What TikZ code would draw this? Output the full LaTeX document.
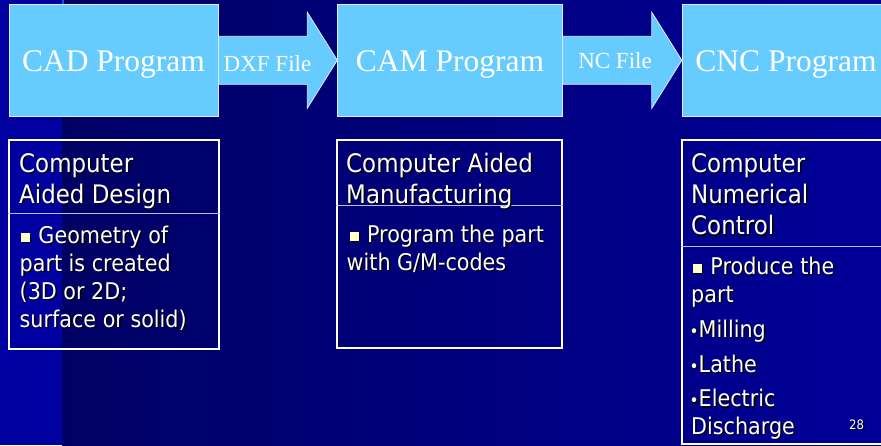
\documentclass[tikz,border=0pt]{standalone}
\usepackage{fontspec}
\setmainfont{Liberation Serif}
\newfontfamily\tah[FakeStretch=0.9]{DejaVu Sans}
\usetikzlibrary{calc}
\definecolor{bgstrip}{RGB}{0,0,160}
\definecolor{bgleft}{RGB}{0,0,100}
\definecolor{bgright}{RGB}{0,0,152}
\definecolor{stripline}{RGB}{0,95,235}
\definecolor{boxfill}{RGB}{102,204,255}
\definecolor{boxline}{RGB}{222,236,255}
\definecolor{bulletc}{RGB}{255,255,204}
\definecolor{divcol}{RGB}{190,190,225}
\def\bcol{bulletc}
\newcommand\sqb{\textcolor{\bcol}{\rule[1.5pt]{9pt}{9pt}}}
\newcommand\dotb{\textcolor{\bcol}{{\fontsize{17}{17}\selectfont •}}}
\newcommand\stxt[4]{%
  \node[#2, text=black] (#1-sh) at ($(#3)+(1.5,1.5)$) {\def\bcol{black}#4};
  \node[#2] (#1) at (#3) {#4};}
\tikzset{
  titlebox/.style={draw=boxline, line width=0.8pt, fill=boxfill, inner sep=0},
  arrowbox/.style={draw=boxline, line width=0.8pt, fill=boxfill, line join=miter},
  ttl/.style={anchor=base, inner sep=0, text=white, font=\fontsize{31.5}{36}\selectfont},
  lbl/.style={anchor=base, inner sep=0, text=white, font=\fontsize{23}{26}\selectfont},
  panel/.style={draw=white, line width=2pt, inner sep=0},
  divline/.style={draw=divcol, line width=1pt},
  hdr/.style={anchor=base west, inner sep=0, text=white, font=\tah\fontsize{25.5}{30}\selectfont},
  bdy/.style={anchor=base west, inner sep=0, text=white, font=\tah\fontsize{23}{27}\selectfont},
  pnum/.style={anchor=base west, inner sep=0, text=white, font=\tah\fontsize{13}{15}\selectfont}
}
\begin{document}
\begin{tikzpicture}[x=1pt, y=-1pt]
\useasboundingbox (0,0) rectangle (881,445);
% background
\shade[left color=bgleft, right color=bgright] (62,0) rectangle (881,445);
\fill[bgstrip] (0,0) rectangle (62,445);
\fill[stripline] (62,0) rectangle (64,4);

% title boxes (named, drawn after arrows)
\path (113.75,60.25) coordinate (cadc) (449.75,60.25) coordinate (camc) (794,60.25) coordinate (cncc);
\node[minimum width=208.5pt, minimum height=112.5pt, inner sep=0] (cad) at (cadc) {};
\node[minimum width=224.5pt, minimum height=112.5pt, inner sep=0] (cam) at (camc) {};
\node[minimum width=224pt, minimum height=112.5pt, inner sep=0] (cnc) at (cncc) {};

% block arrows
\draw[arrowbox] ([yshift=24pt]cad.east) -- ([xshift=-30pt,yshift=24pt]cam.west)
  -- ([xshift=-30pt,yshift=48pt]cam.west) -- (cam.west)
  -- ([xshift=-30pt,yshift=-48pt]cam.west) -- ([xshift=-30pt,yshift=-24pt]cam.west)
  -- ([yshift=-24pt]cad.east) -- cycle;
\draw[arrowbox] ([yshift=24pt]cam.east) -- ([xshift=-30pt,yshift=24pt]cnc.west)
  -- ([xshift=-30pt,yshift=48pt]cnc.west) -- (cnc.west)
  -- ([xshift=-30pt,yshift=-48pt]cnc.west) -- ([xshift=-30pt,yshift=-24pt]cnc.west)
  -- ([yshift=-24pt]cam.east) -- cycle;

\node[titlebox, minimum width=208.5pt, minimum height=112.5pt] (cadbox) at (cadc) {};
\node[titlebox, minimum width=224.5pt, minimum height=112.5pt] (cambox) at (camc) {};
\node[titlebox, minimum width=224pt, minimum height=112.5pt] (cncbox) at (cncc) {};

\node[ttl] (cadt) at (113.5,71.7) {CAD Program};
\node[ttl] (camt) at (450,71.7) {CAM Program};
\node[ttl] (cnct) at (786,71.7) {CNC Program};
\node[lbl] (dxf) at (267.5,71.7) {DXF File};
\node[lbl] (ncf) at (615,68.5) {NC File};

% panels
\node[panel, minimum width=210pt, minimum height=209pt] (p1) at (114,244.5) {};
\node[panel, minimum width=225pt, minimum height=208pt] (p2) at (449.5,244) {};
\node[panel, minimum width=220pt, minimum height=304pt] (p3) at (792,292) {};
\coordinate (y1) at (0,213);
\coordinate (y2) at (0,205.3);
\coordinate (y3) at (0,246);
\draw[divline] (p1.west |- y1) -- (p1.east |- y1);
\draw[divline] (p2.west |- y2) -- (p2.east |- y2);
\draw[divline] (p3.west |- y3) -- (p3.east |- y3);

% panel 1 text
\stxt{a1}{hdr}{19,172}{Computer}
\stxt{a2}{hdr}{19,203}{Aided Design}
\stxt{a3}{bdy}{20.7,243}{\sqb\kern2pt{} Geometry of}
\stxt{a4}{bdy}{19.5,271}{part is created}
\stxt{a5}{bdy}{19.5,299}{(3D or 2D;}
\stxt{a6}{bdy}{19.5,327}{surface or solid)}

% panel 2 text
\stxt{b1}{hdr}{346,172}{Computer Aided}
\stxt{b2}{hdr}{346,203}{Manufacturing}
\stxt{b3}{bdy}{349.3,242}{\sqb\kern2pt{} Program the part}
\stxt{b4}{bdy}{346.5,270}{with G/M-codes}

% panel 3 text
\stxt{c1}{hdr}{691,172}{Computer}
\stxt{c2}{hdr}{691,203.5}{Numerical}
\stxt{c3}{hdr}{691,234.5}{Control}
\stxt{c4}{bdy}{692.7,274}{\sqb\kern2pt{} Produce the}
\stxt{c5}{bdy}{691,302}{part}
\stxt{c6}{bdy}{689.5,337}{\dotb Milling}
\stxt{c7}{bdy}{689.5,372}{\dotb Lathe}
\stxt{c8}{bdy}{689.5,406.5}{\dotb Electric}
\stxt{c9}{bdy}{691,434}{Discharge}
\stxt{pn}{pnum}{849,429}{28}
\end{tikzpicture}
\end{document}
